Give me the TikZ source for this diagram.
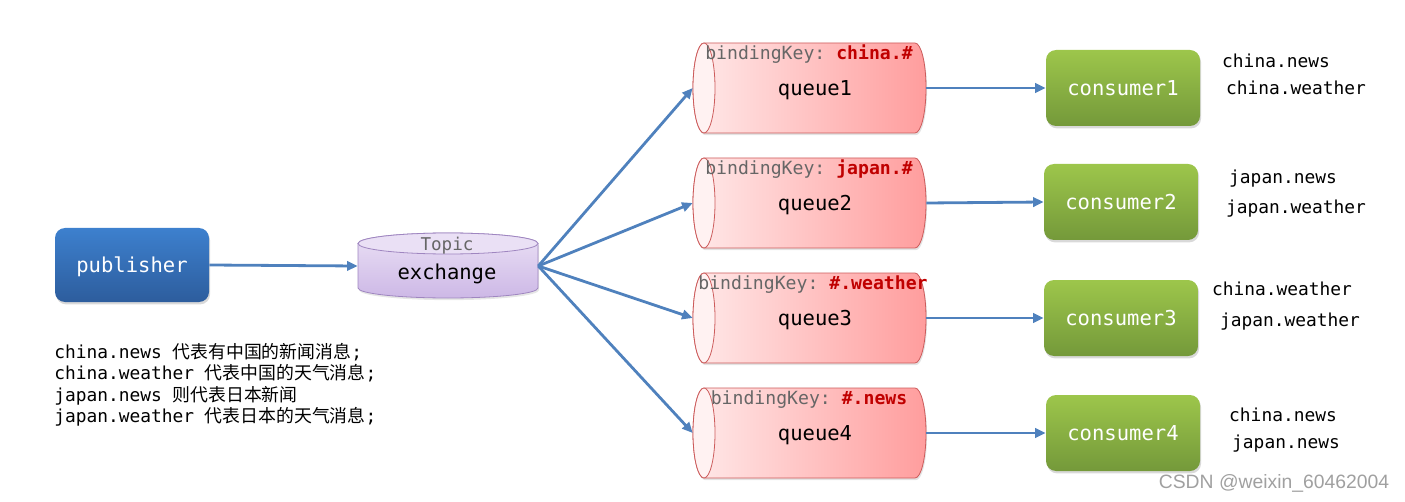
\documentclass[tikz,border=0pt]{standalone}
\usepackage{fontspec}
\setmainfont{Liberation Sans}
\setmonofont{DejaVu Sans Mono}
\newfontfamily\cjk{Noto Sans CJK SC}
\usetikzlibrary{arrows.meta,shadows}
\definecolor{arrowblue}{HTML}{4F81BD}
\definecolor{pubtop}{HTML}{3D80CE}
\definecolor{pubbot}{HTML}{2D5D9D}
\definecolor{contop}{HTML}{9DC64B}
\definecolor{conbot}{HTML}{74993A}
\definecolor{qleft}{HTML}{FFE9E9}
\definecolor{qright}{HTML}{FF9D9D}
\definecolor{qborder}{HTML}{CC5B5B}
\definecolor{qface}{HTML}{FFF2F2}
\definecolor{extop}{HTML}{EAE0F5}
\definecolor{exbot}{HTML}{CDB8E6}
\definecolor{exborder}{HTML}{9F86C0}
\definecolor{keygrey}{HTML}{666666}
\definecolor{keyred}{HTML}{C00000}
\definecolor{wmark}{HTML}{A0A0A0}
\newcommand\queuedraw[5]{%
  \draw[qline, left color=qleft, right color=qright, qshadow]
    (704,#1-45) -- (915,#1-45) arc[start angle=-90,end angle=90,x radius=11,y radius=45]
    -- (704,#1+45) arc[start angle=90,end angle=270,x radius=11,y radius=45] -- cycle;
  \draw[qline, fill=qface] (704,#1) ellipse[x radius=11,y radius=45];
  \node[inner sep=0pt, minimum width=174.75pt, minimum height=67.5pt] (#2) at (809.5,#1) {};
  \node[keytext] at (#5,#1-35) {bindingKey: \textcolor{keyred}{\textbf{#3}}};
  \node[qtext] at (815,#1) {#4};
}
\begin{document}
\begin{tikzpicture}[x=0.75pt,y=-0.75pt,
  bigmono/.style={font=\ttfamily\fontsize{15.4pt}{18pt}\selectfont, text height=11.7pt, text depth=0pt},
  bluebox/.style={bigmono, text=white, rounded corners=7.5pt, top color=pubtop, bottom color=pubbot,
    minimum width=115.5pt, minimum height=55.5pt, inner sep=0pt,
    drop shadow={opacity=0.3, shadow xshift=0.8pt, shadow yshift=-1.8pt}},
  greenbox/.style={bigmono, text=white, rounded corners=7.5pt, top color=contop, bottom color=conbot,
    minimum width=115.5pt, minimum height=57pt, inner sep=0pt,
    drop shadow={opacity=0.3, shadow xshift=0.8pt, shadow yshift=-1.8pt}},
  qline/.style={draw=qborder, line width=0.6pt},
  qshadow/.style={drop shadow={opacity=0.22, shadow xshift=0.8pt, shadow yshift=-1.6pt}},
  keytext/.style={font=\ttfamily\fontsize{13.6pt}{16pt}\selectfont, text=keygrey, inner sep=0pt,
    text height=10.3pt, text depth=0pt},
  qtext/.style={bigmono, inner sep=0pt},
  smallmono/.style={font=\ttfamily\fontsize{13.4pt}{16pt}\selectfont, inner sep=0pt},
  link/.style={draw=arrowblue, line width=2.1pt, -{Triangle[length=8pt,width=7pt]}}
]
\useasboundingbox (0,0) rectangle (1405,502);

% publisher
\node[bluebox] (pub) at (132,265) {publisher};

% exchange cylinder
\draw[draw=exborder, line width=0.6pt, top color=extop, bottom color=exbot,
      drop shadow={opacity=0.2, shadow xshift=0.8pt, shadow yshift=-1.6pt}]
  (358,243.5) -- (358,288) arc[start angle=180,end angle=0,x radius=90,y radius=10]
  -- (538,243.5) arc[start angle=0,end angle=-180,x radius=90,y radius=10.5] -- cycle;
\draw[draw=exborder, line width=0.6pt, fill=extop] (448,243.5) ellipse[x radius=90,y radius=10.5];
\node[inner sep=0pt, minimum width=135pt, minimum height=48.75pt] (ex) at (448,266) {};
\node[font=\ttfamily\fontsize{13.2pt}{16pt}\selectfont, text=keygrey, inner sep=0pt,
      text height=10pt, text depth=0pt] (topic) at (447,244) {Topic};
\node[qtext] (exlabel) at (447,272) {exchange};

% queues
\queuedraw{88}{q1}{china.\#}{queue1}{809}
\queuedraw{203}{q2}{japan.\#}{queue2}{809}
\queuedraw{318}{q3}{\#.weather}{queue3}{813}
\queuedraw{433}{q4}{\#.news}{queue4}{809}

% consumers
\node[greenbox] (c1) at (1123,88) {consumer1};
\node[greenbox] (c2) at (1121,202) {consumer2};
\node[greenbox] (c3) at (1121,318) {consumer3};
\node[greenbox] (c4) at (1123,433) {consumer4};

% connectors
\draw[link] (pub.east) -- (ex.west);
\draw[link] (ex.east) -- (q1.west);
\draw[link] (ex.east) -- (q2.west);
\draw[link] (ex.east) -- (q3.west);
\draw[link] (ex.east) -- (q4.west);
\draw[link] (q1.east) -- (c1.west);
\draw[link] (q2.east) -- (c2.west);
\draw[link] (q3.east) -- (c3.west);
\draw[link] (q4.east) -- (c4.west);

% consumer labels
\node[smallmono] (l1a) at (1276,61) {china.news};
\node[smallmono] (l1b) at (1296,88) {china.weather};
\node[smallmono] (l2a) at (1283,179) {japan.news};
\node[smallmono] (l2b) at (1296,209) {japan.weather};
\node[smallmono] (l3a) at (1282,289) {china.weather};
\node[smallmono] (l3b) at (1290,322) {japan.weather};
\node[smallmono] (l4a) at (1283,415) {china.news};
\node[smallmono] (l4b) at (1286,444) {japan.news};

% description
\node[smallmono, anchor=base west] (d1) at (54,358) {china.news {\cjk 代表有中国的新闻消息};};
\node[smallmono, anchor=base west] (d2) at (54,379.5) {china.weather {\cjk 代表中国的天气消息};};
\node[smallmono, anchor=base west] (d3) at (54,401) {japan.news {\cjk 则代表日本新闻}};
\node[smallmono, anchor=base west] (d4) at (54,422.5) {japan.weather {\cjk 代表日本的天气消息};};

% watermark
\node[font=\fontsize{14.5pt}{17pt}\selectfont, text=wmark, inner sep=0pt] (wm) at (1274,483) {CSDN @weixin\_60462004};
\end{tikzpicture}
\end{document}
